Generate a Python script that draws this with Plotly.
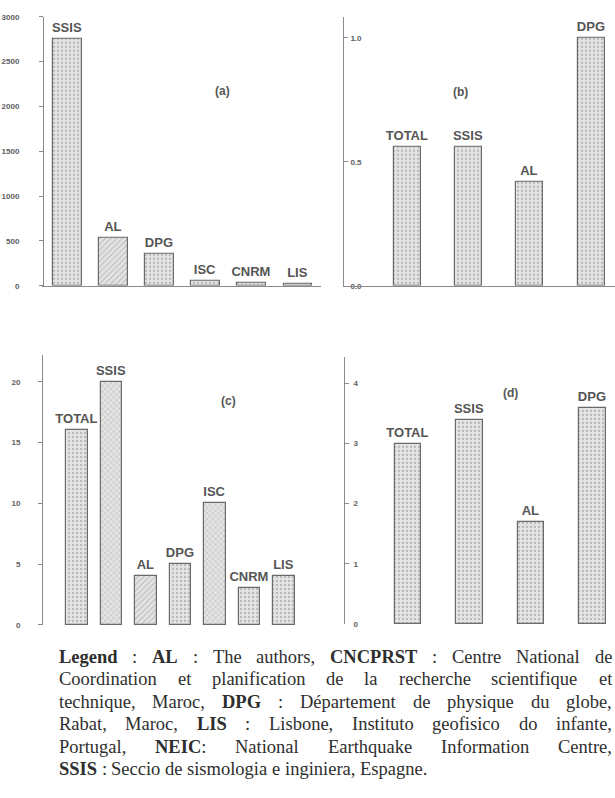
import plotly.graph_objects as go

# ---------------- data ----------------
cats_a = ["SSIS", "AL", "DPG", "ISC", "CNRM", "LIS"]
vals_a = [2760, 540, 360, 60, 30, 20]
pat_a = [".", "/", ".", ".", ".", "."]

cats_b = ["TOTAL", "SSIS", "AL", "DPG"]
vals_b = [0.56, 0.56, 0.42, 1.0]
pat_b = [".", ".", ".", "."]

cats_c = ["TOTAL", "SSIS", "AL", "DPG", "ISC", "CNRM", "LIS"]
vals_c = [16, 20, 4, 5, 10, 3, 4]
pat_c = [".", "x", "/", ".", "x", ".", "."]

cats_d = ["TOTAL", "SSIS", "AL", "DPG"]
vals_d = [3.0, 3.4, 1.7, 3.6]
pat_d = [".", ".", ".", "."]

ticks_a = [0, 500, 1000, 1500, 2000, 2500, 3000]
ticks_b = [0.0, 0.5, 1.0]
ticktext_b = ["0.0", "0.5", "1.0"]
ticks_c = [0, 5, 10, 15, 20]
ticks_d = [0, 1, 2, 3, 4]

panel_labels = ["(a)", "(b)", "(c)", "(d)"]

# legend text: words wrapped in * are bold
legend_lines = [
    "*Legend* : *AL* : The authors, *CNCPRST* : Centre National de",
    "Coordination et planification de la recherche scientifique et",
    "technique, Maroc, *DPG* : Département de physique du globe,",
    "Rabat, Maroc, *LIS* : Lisbone, Instituto geofisico do infante,",
    "Portugal, *NEIC*: National Earthquake Information Centre,",
    "*SSIS* : Seccio de sismologia e inginiera, Espagne.",
]

# ---------------- layout helpers ----------------
W, H = 615, 798
def px_x(x):
    return x / W
def px_y(y):
    return 1 - y / H

BAR_FG = "#8a8a8a"
BAR_BG = "#e4e4e4"
EDGE = "#6a6a6a"
AXC = "#8a8a8a"
TXT = "#555555"
SANS = "Liberation Sans, Arial, sans-serif"
SERIF = "Liberation Serif, Times New Roman, serif"

fig = go.Figure()

def add_bars(cats, vals, pats, width, axis):
    fig.add_trace(go.Bar(
        x=cats, y=vals, width=width,
        text=cats, textposition="outside", cliponaxis=False,
        constraintext="none",
        textfont=dict(family=SANS, size=13, color=TXT),
        texttemplate="<b>%{text}</b>",
        marker=dict(color=BAR_BG, line=dict(color=EDGE, width=1.2),
                    pattern=dict(shape=pats, fgcolor=BAR_FG, bgcolor=BAR_BG,
                                 size=4, solidity=0.25)),
        xaxis="x" + axis, yaxis="y" + axis, showlegend=False,
        hoverinfo="skip",
    ))

add_bars(cats_a, vals_a, pat_a, 0.63, "")
add_bars(cats_b, vals_b, pat_b, 0.44, "2")
add_bars(cats_c, vals_c, pat_c, 0.62, "3")
add_bars(cats_d, vals_d, pat_d, 0.43, "4")

tickfont = dict(family=SANS, size=8, color="#606060")

def bold(lst):
    return ["<b>%s</b>" % t for t in lst]

def xax(domain, rng):
    return dict(domain=domain, range=rng, showticklabels=False, ticks="",
                showline=True, linecolor=AXC, linewidth=1, showgrid=False,
                zeroline=False, fixedrange=True)

def yax(domain, rng, tickvals, ticktext, anchor, inside, standoff):
    d = dict(domain=domain, range=rng, tickvals=tickvals, ticktext=bold(ticktext),
             showline=True, linecolor=AXC, linewidth=1, showgrid=False,
             zeroline=False, anchor=anchor, ticklen=4, tickcolor=AXC,
             tickfont=tickfont, ticklabelstandoff=standoff)
    if inside:
        d.update(ticks="inside", ticklabelposition="inside", ticklabeloverflow="allow")
    else:
        d.update(ticks="outside")
    return d

fig.update_layout(
    width=W, height=H, margin=dict(l=0, r=0, t=0, b=0),
    paper_bgcolor="white", plot_bgcolor="rgba(0,0,0,0)",
    bargap=0,
    xaxis=xax([px_x(44), px_x(321)], [-0.52, 5.5]),
    yaxis=yax([px_y(285), px_y(13)], [0, 3000], ticks_a, [str(t) for t in ticks_a], "x", False, 18),
    xaxis2=xax([px_x(344), 1.0], [-1.03, 3.39]),
    yaxis2=yax([px_y(285), px_y(13)], [0, 1.084], ticks_b, ticktext_b, "x2", True, 1),
    xaxis3=xax([px_x(43), px_x(321)], [-0.985, 7.07]),
    yaxis3=yax([px_y(628), px_y(355)], [0, 22.2], ticks_c, [str(t) for t in ticks_c], "x3", False, 16),
    xaxis4=xax([px_x(345), 1.0], [-1.024, 3.366]),
    yaxis4=yax([px_y(627), px_y(357)], [0, 4.44], ticks_d, [str(t) for t in ticks_d], "x4", True, 3),
)

# panel labels
for lab, (x, y) in zip(panel_labels, [(222, 79), (470, 80), (228, 402), (520, 393)]):
    fig.add_annotation(text="<b>%s</b>" % lab, x=px_x(x), y=px_y(y), xref="paper", yref="paper",
                       showarrow=False, font=dict(family=SANS, size=12, color=TXT))

# ---------------- justified legend text (Times metrics, 1/1000 em) ----------------
REG = {' ': 250, ',': 250, '.': 250, ':': 278, 'A': 722, 'B': 667, 'C': 667, 'D': 722,
       'E': 611, 'F': 556, 'G': 722, 'H': 722, 'I': 333, 'J': 389, 'K': 722, 'L': 611,
       'M': 889, 'N': 722, 'O': 722, 'P': 556, 'Q': 722, 'R': 667, 'S': 556, 'T': 611,
       'U': 722, 'V': 722, 'W': 944, 'X': 722, 'Y': 722, 'Z': 611,
       'a': 444, 'b': 500, 'c': 444, 'd': 500, 'e': 444, 'f': 333, 'g': 500, 'h': 500,
       'i': 278, 'j': 278, 'k': 500, 'l': 278, 'm': 778, 'n': 500, 'o': 500, 'p': 500,
       'q': 500, 'r': 333, 's': 389, 't': 278, 'u': 500, 'v': 500, 'w': 722, 'x': 500,
       'y': 500, 'z': 444, 'é': 444}
BOLD = {'A': 722, 'C': 722, 'D': 722, 'E': 667, 'G': 778, 'I': 389, 'L': 667, 'N': 722,
        'P': 611, 'R': 722, 'S': 556, 'T': 667, 'e': 444, 'g': 500, 'n': 556, 'd': 556}

FS = 18.5
LEFT, RIGHT = 59, 612
TOP, STEP = 660, 22.8

def word_width(parts):
    total = 0.0
    for t, b in parts:
        tab = BOLD if b else REG
        total += sum(tab.get(ch, REG.get(ch, 500)) for ch in t)
    return total * FS / 1000.0

def parse_word(w):
    # split a token into (text, bold) parts, e.g. "*NEIC*:" -> [("NEIC", True), (":", False)]
    parts = []
    segs = w.split("*")
    for k, s in enumerate(segs):
        if s:
            parts.append((s, k % 2 == 1))
    return parts

for i, line in enumerate(legend_lines):
    items = []
    for w in line.split(" "):
        parts = parse_word(w)
        html = "".join(("<b>%s</b>" % t) if b else t for t, b in parts)
        items.append((html, word_width(parts)))
    total = sum(it[1] for it in items)
    last = (i == len(legend_lines) - 1)
    gap = 0.25 * FS if last else (RIGHT - LEFT - total) / (len(items) - 1)
    x = LEFT
    y = TOP + i * STEP
    for html, wd in items:
        fig.add_annotation(text=html,
                           x=px_x(x), y=px_y(y), xref="paper", yref="paper",
                           xanchor="left", yanchor="middle", showarrow=False,
                           borderpad=0, borderwidth=0,
                           font=dict(family=SERIF, size=FS, color="#2e2e2e"))
        x += wd + gap

fig.write_html("out.html")
